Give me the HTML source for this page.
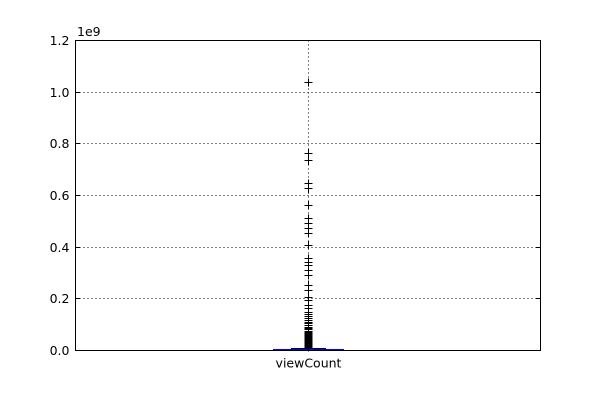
<!DOCTYPE html>
<html><head><meta charset="utf-8"><style>
body{margin:0;background:#fff;}
svg text{font-family:"DejaVu Sans","Liberation Sans",sans-serif;font-size:12.5px;fill:#000;}
</style></head><body>
<svg id="chart" width="600" height="400" xmlns="http://www.w3.org/2000/svg">
<rect x="0" y="0" width="600" height="400" fill="#fff"/>
<g id="grid"></g>
<g id="marks"></g>
<rect x="75.5" y="40.5" width="465" height="310" fill="none" stroke="#000" stroke-width="1"/>
<g id="axes"></g>
<text x="77" y="36">1e9</text>
</svg>
<script>
const categories = ["viewCount"];
const yTicks = [0, 0.2, 0.4, 0.6, 0.8, 1.0, 1.2];
const yTickLabels = ["0.0","0.2","0.4","0.6","0.8","1.0","1.2"];
// box stats in units of 1e9
const boxQ1 = [0.0005];
const boxMedian = [0.0015];
const boxQ3 = [0.004];
const whiskerLow = [0];
const whiskerHigh = [0.009];
const fliers = [1.039,0.761,0.735,0.645,0.626,0.561,0.51,0.49,0.471,0.452,0.406,0.355,0.342,0.329,0.31,0.29,0.252,0.232,0.206,0.194,0.174,0.161,0.148,0.14,0.133,0.125,0.118,0.11,0.103,0.097,0.09,0.085,0.08,0.075,0.07,0.066,0.062,0.058,0.054,0.05,0.046,0.043,0.04,0.037,0.034,0.031,0.028,0.025,0.022,0.02,0.018,0.016,0.014,0.012,0.011,0.01];

const L=75.5,R=540.5,T=40.5,B=350.5;
const yMax=1.2;
function y(v){return Math.round(B-(v/yMax)*(B-T)-0.5)+0.5;}
function x(i){return Math.round(L+(R-L)*(i+1)/(categories.length+1)-0.5)+0.5;}
const NS="http://www.w3.org/2000/svg";
function mk(tag,attrs,parent){const e=document.createElementNS(NS,tag);for(const k in attrs)e.setAttribute(k,attrs[k]);parent.appendChild(e);return e;}
const grid=document.getElementById('grid'),marks=document.getElementById('marks'),axes=document.getElementById('axes');

yTicks.forEach((t,i)=>{
  if(i>0&&i<yTicks.length-1){
    const g=mk('line',{x1:L,x2:R,y1:y(t),y2:y(t),stroke:'#000','stroke-dasharray':'1,3','stroke-width':1,'shape-rendering':'crispEdges'},grid);
    
    
  }
  const tk=mk('line',{x1:L,x2:L+4,y1:y(t),y2:y(t),stroke:'#000'},axes);
  
  
  const tk2=mk('line',{x1:R-4,x2:R,y1:y(t),y2:y(t),stroke:'#000'},axes);
  
  
  const lb=mk('text',{x:L-6,y:y(t)+4.5,'text-anchor':'end'},axes);
  lb.textContent=yTickLabels[i];
  
  
});
categories.forEach((c,i)=>{
  const cx=x(i);
  const vg=mk('line',{x1:cx,x2:cx,y1:T,y2:B,stroke:'#000','stroke-dasharray':'1,3','shape-rendering':'crispEdges'},grid);
  
  
  const lb=mk('text',{x:cx,y:B+17,'text-anchor':'middle'},axes);
  lb.textContent=c;
  
  
  const hw=35;
  const box=mk('rect',{x:cx-hw,y:y(boxQ3[i]),width:2*hw,height:Math.max(0.5,y(boxQ1[i])-y(boxQ3[i])),fill:'none',stroke:'#0000ff'},marks);
  
  
  const md=mk('line',{x1:cx-hw,x2:cx+hw,y1:y(boxMedian[i]),y2:y(boxMedian[i]),stroke:'#ff0000'},marks);
  
  
  const wh=mk('line',{x1:cx,x2:cx,y1:y(whiskerLow[i]),y2:y(whiskerHigh[i]),stroke:'#0000ff','stroke-dasharray':'4,2'},marks);
  
  
  const cap=mk('line',{x1:cx-hw/2,x2:cx+hw/2,y1:y(whiskerHigh[i]),y2:y(whiskerHigh[i]),stroke:'#000'},marks);
  
  
  fliers.forEach(v=>{
    const yy=y(v);
    const p=mk('path',{d:`M${cx-4},${yy}H${cx+4}M${cx},${yy-4}V${yy+4}`,stroke:'#000','stroke-width':1,fill:'none','shape-rendering':'crispEdges'},marks);
    
    
  });
});
</script>
</body></html>
